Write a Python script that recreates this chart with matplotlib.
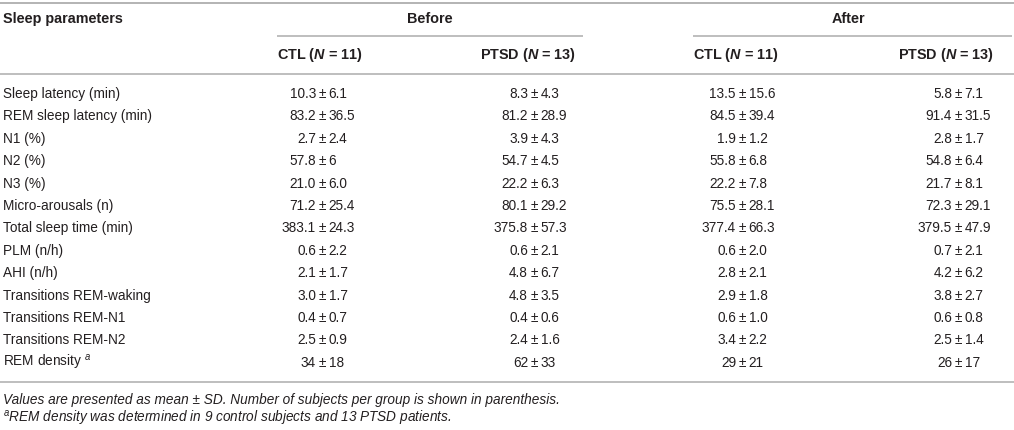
import matplotlib
matplotlib.use("Agg")
import matplotlib.pyplot as plt

plt.rcParams['font.family'] = ['Liberation Sans', 'DejaVu Sans']
plt.rcParams['mathtext.fontset'] = 'custom'
plt.rcParams['mathtext.rm'] = 'Liberation Sans'
plt.rcParams['mathtext.it'] = 'Liberation Sans:italic'
plt.rcParams['mathtext.bf'] = 'Liberation Sans:bold'
plt.rcParams['mathtext.bfit'] = 'Liberation Sans:italic:bold'

# ---- data ----
parameters = ["Sleep latency (min)", "REM sleep latency (min)", "N1 (%)", "N2 (%)", "N3 (%)",
              "Micro-arousals (n)", "Total sleep time (min)", "PLM (n/h)", "AHI (n/h)",
              "Transitions REM-waking", "Transitions REM-N1", "Transitions REM-N2",
              r"REM density $^{\mathit{a}}$"]
groups = ["Before", "After"]
subgroups = [r"CTL ($\mathbfit{N}$ = 11)", r"PTSD ($\mathbfit{N}$ = 13)"]

before_ctl_mean = ["10.3", "83.2", "2.7", "57.8", "21.0", "71.2", "383.1", "0.6", "2.1", "3.0", "0.4", "2.5", "34"]
before_ctl_sd = ["6.1", "36.5", "2.4", "6", "6.0", "25.4", "24.3", "2.2", "1.7", "1.7", "0.7", "0.9", "18"]
before_ptsd_mean = ["8.3", "81.2", "3.9", "54.7", "22.2", "80.1", "375.8", "0.6", "4.8", "4.8", "0.4", "2.4", "62"]
before_ptsd_sd = ["4.3", "28.9", "4.3", "4.5", "6.3", "29.2", "57.3", "2.1", "6.7", "3.5", "0.6", "1.6", "33"]
after_ctl_mean = ["13.5", "84.5", "1.9", "55.8", "22.2", "75.5", "377.4", "0.6", "2.8", "2.9", "0.6", "3.4", "29"]
after_ctl_sd = ["15.6", "39.4", "1.2", "6.8", "7.8", "28.1", "66.3", "2.0", "2.1", "1.8", "1.0", "2.2", "21"]
after_ptsd_mean = ["5.8", "91.4", "2.8", "54.8", "21.7", "72.3", "379.5", "0.7", "4.2", "3.8", "0.6", "2.5", "26"]
after_ptsd_sd = ["7.1", "31.5", "1.7", "6.4", "8.1", "29.1", "47.9", "2.1", "6.2", "2.7", "0.8", "1.4", "17"]

footnotes = ["Values are presented as mean \u00b1 SD. Number of subjects per group is shown in parenthesis.",
             r"$^{a}$REM density was determined in 9 control subjects and 13 PTSD patients."]

# ---- layout ----
W, H = 1014, 430
fig = plt.figure(figsize=(W / 100, H / 100), dpi=100)
ax = fig.add_axes([0, 0, 1, 1])
ax.set_xlim(0, W)
ax.set_ylim(H, 0)
ax.axis('off')

txt = '#231f20'
rule = '#b3b3b3'
fs = 9.8
hfs = 10.4

# rules
ax.plot([0, W], [2.5, 2.5], color=rule, lw=1.4, solid_capstyle='butt')
ax.plot([277, 583], [36, 36], color=rule, lw=1.2, solid_capstyle='butt')
ax.plot([693, W - 2], [36, 36], color=rule, lw=1.2, solid_capstyle='butt')
ax.plot([0, W], [74, 74], color=rule, lw=1.2, solid_capstyle='butt')
ax.plot([0, W], [382, 382], color=rule, lw=1.2, solid_capstyle='butt')

# headers
ax.text(3, 19, "Sleep parameters", fontsize=hfs, fontweight='bold', color=txt, va='center', ha='left')
ax.text(430, 19, groups[0], fontsize=hfs, fontweight='bold', color=txt, va='center', ha='center')
ax.text(848, 19, groups[1], fontsize=hfs, fontweight='bold', color=txt, va='center', ha='center')

col_left = [277, 480, 693, 898]
for i, x in enumerate(col_left):
    ax.text(x, 55, subgroups[i % 2], fontsize=hfs,
            fontweight='bold', color=txt, va='center', ha='left')

# body
mean_right = [316, 528, 736, 952]
cols = [(before_ctl_mean, before_ctl_sd), (before_ptsd_mean, before_ptsd_sd),
        (after_ctl_mean, after_ctl_sd), (after_ptsd_mean, after_ptsd_sd)]
row0, dy = 94, 22.4
for r, label in enumerate(parameters):
    y = row0 + r * dy
    ax.text(3, y, label, fontsize=fs, color=txt, va='center', ha='left')
    for c, (means, sds) in enumerate(cols):
        xm = mean_right[c]
        ax.text(xm, y, means[r], fontsize=fs, color=txt, va='center', ha='right')
        ax.text(xm + 6.2, y, "\u00b1", fontsize=fs, color=txt, va='center', ha='center')
        ax.text(xm + 12.5, y, sds[r], fontsize=fs, color=txt, va='center', ha='left')

ax.text(3, 400, footnotes[0], fontsize=fs, color=txt, style='italic', va='center', ha='left')
ax.text(3, 419, footnotes[1], fontsize=fs, color=txt, style='italic', va='center', ha='left')

fig.savefig("out.png", dpi=100, facecolor='white')
